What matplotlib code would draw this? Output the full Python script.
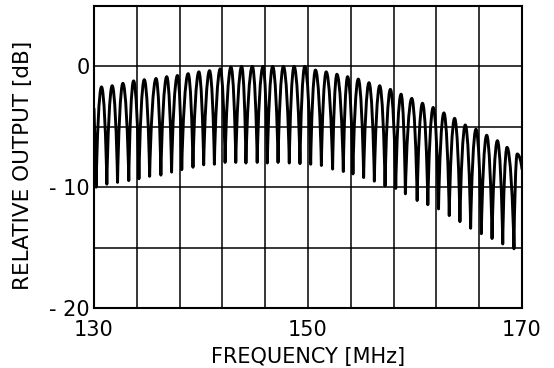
import matplotlib
matplotlib.use("Agg")
import matplotlib.pyplot as plt
from matplotlib.path import Path
from matplotlib.patches import PathPatch
from matplotlib.ticker import MultipleLocator

plt.rcParams["font.family"] = "DejaVu Sans"
plt.rcParams["axes.unicode_minus"] = False

# ripple peaks and troughs [MHz, dB]
peak_f = [130.7, 131.7, 132.7, 133.7, 134.7, 135.8, 136.8, 137.8, 138.8, 139.8,
          140.8, 141.8, 142.8, 143.8, 144.8, 145.8, 146.7, 147.7, 148.7, 149.7,
          150.7, 151.7, 152.7, 153.7, 154.7, 155.7, 156.7, 157.7, 158.7, 159.7,
          160.7, 161.7, 162.7, 163.7, 164.7, 165.7, 166.7, 167.7, 168.6, 169.55]
peak_db = [-1.7, -1.6, -1.4, -1.2, -1.1, -1.0, -0.85, -0.75, -0.6, -0.45,
           -0.35, -0.2, -0.05, 0.0, 0.0, 0.0, 0.0, 0.0, 0.0, 0.0,
           -0.3, -0.45, -0.65, -0.85, -1.05, -1.35, -1.6, -1.9, -2.3, -2.65,
           -3.05, -3.4, -3.85, -4.3, -4.85, -5.2, -5.7, -6.15, -6.7, -7.25]
trough_f = [130.2, 131.2, 132.2, 133.25, 134.2, 135.2, 136.25, 137.25, 138.2, 139.25,
            140.25, 141.25, 142.25, 143.25, 144.2, 145.25, 146.2, 147.2, 148.25, 149.25,
            150.25, 151.25, 152.3, 153.3, 154.2, 155.2, 156.2, 157.2, 158.2, 159.1,
            160.2, 161.2, 162.2, 163.2, 164.2, 165.2, 166.2, 167.2, 168.2, 169.25]
trough_db = [-10.0, -9.75, -9.6, -9.45, -9.3, -9.1, -9.0, -8.75, -8.55, -8.35,
             -8.15, -8.1, -7.95, -7.95, -8.0, -7.95, -8.0, -7.95, -8.0, -8.05,
             -8.1, -8.2, -8.5, -8.7, -8.9, -9.2, -9.5, -9.9, -10.1, -10.55,
             -11.1, -11.45, -11.8, -12.35, -12.85, -13.4, -13.85, -14.25, -14.7, -15.1]
start_pt = (130.0, -3.5)
end_pt = (170.0, -8.5)

x_ticks = [130, 150, 170]
y_ticks = [0, -10, -20]
y_tick_labels = ["0", "- 10", "- 20"]

fig = plt.figure(figsize=(5.54, 3.68), dpi=100)
ax = fig.add_axes([94 / 554, 1 - 308 / 368, 428 / 554, 302 / 368])


def half_wave(p0, p1, rising):
    # cubic segment, flat at the peak end, steep at the trough end
    dx, dy = p1[0] - p0[0], p1[1] - p0[1]
    if rising:
        c1 = (p0[0] + 0.15 * dx, p0[1] + 0.45 * dy)
        c2 = (p1[0] - 0.45 * dx, p1[1])
    else:
        c1 = (p0[0] + 0.45 * dx, p0[1])
        c2 = (p1[0] - 0.15 * dx, p1[1] - 0.45 * dy)
    return [c1, c2, p1]


verts = [start_pt, (trough_f[0], trough_db[0])]
codes = [Path.MOVETO, Path.LINETO]
for i in range(len(peak_f)):
    t0 = (trough_f[i], trough_db[i])
    pk = (peak_f[i], peak_db[i])
    t1 = (trough_f[i + 1], trough_db[i + 1]) if i + 1 < len(trough_f) else end_pt
    verts += half_wave(t0, pk, True) + half_wave(pk, t1, False)
    codes += [Path.CURVE4] * 6

trace = PathPatch(Path(verts, codes), facecolor="none", edgecolor="black",
                  lw=2.1, joinstyle="round", capstyle="round", zorder=3)
ax.add_patch(trace)

ax.set_xlim(130, 170)
ax.set_ylim(-20, 5)
ax.set_xticks(x_ticks)
ax.set_yticks(y_ticks)
ax.set_yticklabels(y_tick_labels)
ax.xaxis.set_minor_locator(MultipleLocator(4, offset=2))
ax.yaxis.set_minor_locator(MultipleLocator(5))
ax.grid(True, which="both", color="black", lw=1.1)
ax.set_axisbelow(True)
ax.tick_params(which="both", length=0)
ax.tick_params(axis="x", pad=9, labelsize=15)
ax.tick_params(axis="y", pad=3, labelsize=15)
for s in ax.spines.values():
    s.set_linewidth(1.5)

ax.set_xlabel("FREQUENCY [MHz]", fontsize=15)
ax.set_ylabel("RELATIVE OUTPUT [dB]", fontsize=15.5)
ax.xaxis.set_label_coords(0.5, -0.128)
ax.yaxis.set_label_coords(-0.1425, 0.473)

fig.savefig("out.png", dpi=100)
